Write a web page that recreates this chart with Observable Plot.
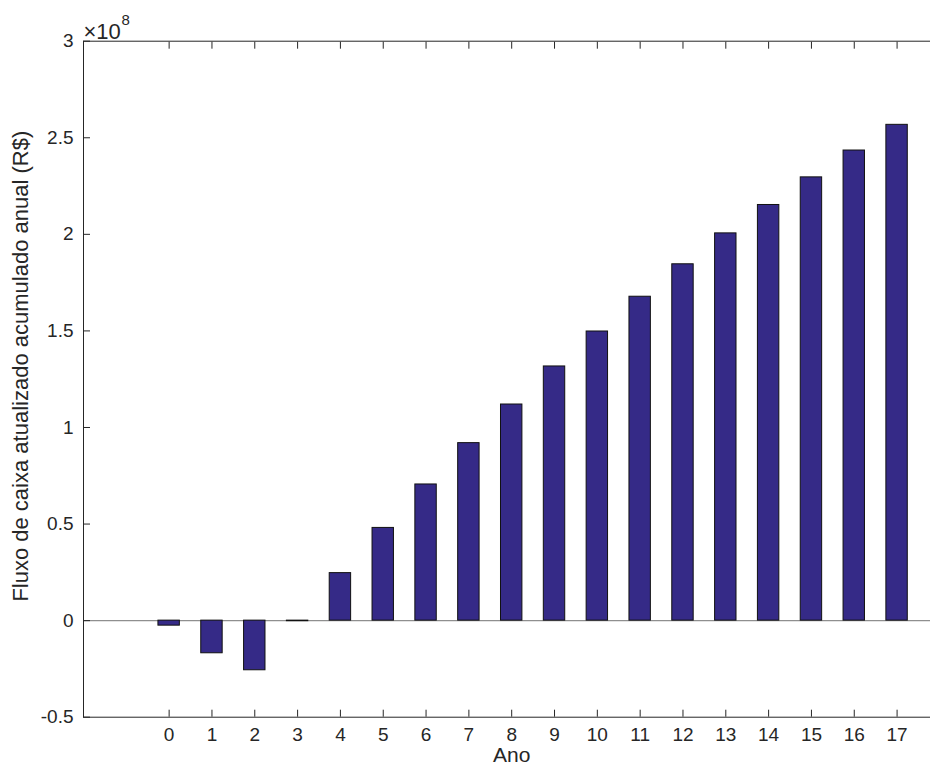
<!DOCTYPE html>
<html>
<head>
<meta charset="utf-8">
<script src="https://cdn.jsdelivr.net/npm/d3@7"></script>
<script src="https://cdn.jsdelivr.net/npm/@observablehq/plot@0.6"></script>
<style>
  html, body { margin: 0; padding: 0; overflow: hidden; background: #fff; }
  #chart { width: 930px; height: 767px; overflow: hidden; }
  #chart svg { max-width: none !important; width: 940px !important; height: 767px !important; }
</style>
</head>
<body>
<div id="chart"></div>
<script>
// Years (categories)
const anos = [0, 1, 2, 3, 4, 5, 6, 7, 8, 9, 10, 11, 12, 13, 14, 15, 16, 17];
// Cumulative discounted cash flow, in units of 1e8 R$
const fluxo = [-0.026, -0.169, -0.257, -0.003, 0.246, 0.480, 0.705, 0.919, 1.119,
               1.316, 1.497, 1.677, 1.845, 2.005, 2.152, 2.295, 2.434, 2.567];
// Tick values and labels
const yTicks = [-0.5, 0, 0.5, 1, 1.5, 2, 2.5, 3];
const yTickLabels = ["-0.5", "0", "0.5", "1", "1.5", "2", "2.5", "3"];
const xTicks = anos;
const xTickLabels = anos.map(String);
const yLabel = "Fluxo de caixa atualizado acumulado anual (R$)";
const xLabel = "Ano";
const multiplierBase = "\u00d710";
const multiplierExp = "8";

const data = anos.map((a, i) => ({ano: a, valor: fluxo[i]}));
const ink = "#262626";
const font = "'Liberation Sans', Arial, Helvetica, sans-serif";

const chart = Plot.plot({
  width: 940,
  height: 767,
  marginLeft: 83,
  marginRight: 0.6,
  marginTop: 40.7,
  marginBottom: 50.3,
  style: {fontFamily: font, fontSize: "19px", color: ink, background: "#fff", overflow: "visible"},
  x: {domain: [-2, 18]},
  y: {domain: [-0.5, 3]},
  marks: [
    Plot.ruleY([0], {stroke: "#8f8f8f", strokeWidth: 1.2}),
    Plot.rectY(data, {
      x1: d => d.ano - 0.25,
      x2: d => d.ano + 0.25,
      y1: 0,
      y2: "valor",
      fill: "#352a87",
      stroke: "#111",
      strokeWidth: 1
    }),
    Plot.frame({stroke: ink, strokeWidth: 1}),
    Plot.axisY({
      anchor: "left",
      ticks: yTicks,
      tickSize: -7,
      tickPadding: 17,
      tickFormat: (d) => yTickLabels[yTicks.indexOf(d)],
      stroke: ink,
      fill: ink,
      fontSize: 19,
      label: null
    }),
    Plot.axisY({
      anchor: "right",
      ticks: yTicks,
      tickSize: -7,
      tickFormat: () => "",
      stroke: ink,
      label: null
    }),
    Plot.axisX({
      anchor: "bottom",
      ticks: xTicks,
      tickSize: -7,
      tickPadding: 17,
      tickFormat: (d) => xTickLabels[xTicks.indexOf(d)],
      stroke: ink,
      fill: ink,
      fontSize: 19,
      label: null
    }),
    Plot.axisX({
      anchor: "top",
      ticks: xTicks,
      tickSize: -7,
      tickFormat: () => "",
      stroke: ink,
      label: null
    }),
    Plot.text([yLabel], {
      frameAnchor: "left",
      textAnchor: "middle",
      lineAnchor: "middle",
      rotate: -90,
      dx: -63,
      dy: -13,
      fill: ink,
      fontSize: 22
    }),
    Plot.text([xLabel], {
      frameAnchor: "bottom",
      textAnchor: "middle",
      lineAnchor: "middle",
      dy: 38,
      fill: ink,
      fontSize: 21
    }),
    Plot.text([multiplierBase], {
      frameAnchor: "top-left",
      textAnchor: "start",
      dx: 0,
      dy: -18,
      fill: ink,
      fontSize: 22
    }),
    Plot.text([multiplierExp], {
      frameAnchor: "top-left",
      textAnchor: "start",
      dx: 38,
      dy: -27,
      fill: ink,
      fontSize: 15
    })
  ]
});
document.getElementById("chart").appendChild(chart);
</script>
</body>
</html>
